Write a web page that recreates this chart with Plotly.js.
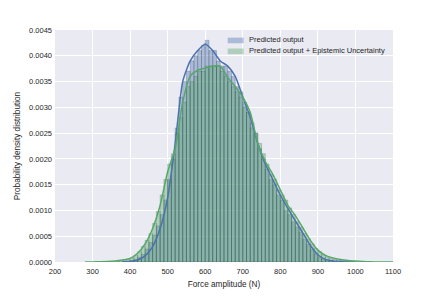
<!DOCTYPE html>
<html>
<head>
<meta charset="utf-8">
<script src="https://cdn.plot.ly/plotly-3.0.1.min.js"></script>
<style>html,body{margin:0;padding:0;background:#fff;}#chart{width:436px;height:300px;}</style>
</head>
<body>
<div id="chart"></div>
<script>
// Histogram bin centres (N) and densities: predicted output
const binsPred = [385,395,405,415,425,435,445,455,465,475,485,495,505,515,525,535,545,555,565,575,585,595,605,615,625,635,645,655,665,675,685,695,705,715,725,735,745,755,765,775,785,795,805,815,825,835,845,855,865,875,885,895,905,915,925,935,945,955];
const densPred = [0.00001,0.00002,0.00003,0.00005,0.00009,0.00015,0.00025,0.00038,0.00052,0.0007,0.00092,0.0012,0.0016,0.0020,0.0026,0.0032,0.0035,0.0037,0.0039,0.0040,0.0041,0.0042,0.0043,0.0041,0.0041,0.0039,0.0038,0.0038,0.0037,0.0036,0.0034,0.0033,0.0031,0.0029,0.0027,0.0025,0.0022,0.0020,0.0018,0.0016,0.0015,0.0013,0.0012,0.0010,0.00092,0.00078,0.00068,0.00058,0.00044,0.00034,0.00024,0.00016,0.0001,0.00006,0.00004,0.00002,0.00001,0.00001];

// Histogram: predicted output + epistemic uncertainty
const binsEpi = [365,375,385,395,405,415,425,435,445,455,465,475,485,495,505,515,525,535,545,555,565,575,585,595,605,615,625,635,645,655,665,675,685,695,705,715,725,735,745,755,765,775,785,795,805,815,825,835,845,855,865,875,885,895,905,915,925,935,945,955,965,975,985,995];
const densEpi = [0.00001,0.00002,0.00003,0.00005,0.00008,0.00013,0.0002,0.0003,0.00042,0.00055,0.00075,0.00098,0.0013,0.0016,0.0019,0.0021,0.0025,0.0028,0.0031,0.0034,0.0035,0.0036,0.0037,0.0037,0.0038,0.0038,0.0038,0.0038,0.0037,0.0036,0.0035,0.0034,0.0033,0.0032,0.0030,0.0029,0.0026,0.0025,0.0023,0.0021,0.0019,0.0017,0.0016,0.0014,0.0013,0.0012,0.00105,0.00092,0.00078,0.00068,0.00055,0.00045,0.00035,0.00026,0.0002,0.00014,0.0001,0.00007,0.00005,0.00004,0.00003,0.00002,0.00001,0.00001];

// KDE curves
const kdeXPred = [380,400,420,440,460,480,500,520,540,560,580,600,620,640,660,680,700,720,740,760,780,800,820,840,860,880,900,920,940,960,980,1000];
const kdeYPred = [0,0.00001,0.00004,0.00012,0.0003,0.00065,0.00125,0.0023,0.0035,0.0039,0.0041,0.00423,0.0041,0.0039,0.0038,0.0036,0.0032,0.0028,0.0023,0.0019,0.0016,0.0013,0.00104,0.0008,0.00056,0.00032,0.00014,0.00005,0.00002,0.00001,0,0];
const kdeXEpi = [280,300,320,340,360,380,400,420,440,460,480,500,520,540,560,580,600,620,640,660,680,700,720,740,760,780,800,820,840,860,880,900,920,940,960,980,1000,1020,1040,1060,1080,1100];
const kdeYEpi = [0,0.000002,0.000005,0.00001,0.00002,0.00004,0.00007,0.00017,0.00035,0.00065,0.0011,0.00175,0.0022,0.0031,0.0036,0.00372,0.00376,0.0038,0.0038,0.00358,0.0034,0.0032,0.0029,0.0023,0.00195,0.0017,0.0014,0.0011,0.0009,0.00066,0.00042,0.00023,0.00013,0.00008,0.00005,0.00003,0.00002,0.00001,0.000005,0,0,0];

const seriesNames = ['Predicted output', 'Predicted output + Epistemic Uncertainty'];
const xTicks = [200,300,400,500,600,700,800,900,1000,1100];

const blue = '#4C72B0', green = '#55A868';
const font = {family: 'Liberation Sans, Arial, sans-serif', size: 7.5, color: '#262626'};
const titleFont = {family: 'Liberation Sans, Arial, sans-serif', size: 8.2, color: '#262626'};

const traces = [
  {type:'bar', x: binsPred, y: densPred, width: 10, name: seriesNames[0],
   marker:{color:'rgba(76,114,176,0.4)', line:{color:'rgba(40,55,70,0.45)', width:0.5}}, showlegend:false, hoverinfo:'skip'},
  {type:'bar', x: binsEpi, y: densEpi, width: 10, name: seriesNames[1],
   marker:{color:'rgba(85,168,104,0.4)', line:{color:'rgba(40,70,50,0.45)', width:0.5}}, showlegend:false, hoverinfo:'skip'},
  {type:'scatter', mode:'lines', x: kdeXPred, y: kdeYPred, line:{color: blue, width:1.5, shape:'spline', smoothing:0.6}, showlegend:false, hoverinfo:'skip'},
  {type:'scatter', mode:'lines', x: kdeXEpi, y: kdeYEpi, line:{color: green, width:1.5, shape:'spline', smoothing:0.6}, showlegend:false, hoverinfo:'skip'}
];

const layout = {
  width: 436, height: 300,
  margin: {l:55, r:43, t:30, b:38},
  paper_bgcolor: '#ffffff', plot_bgcolor: '#EAEAF2',
  barmode: 'overlay', bargap: 0,
  font: font,
  xaxis: {range:[200,1100], tickvals: xTicks, ticktext: xTicks.map(String), gridcolor:'#ffffff', gridwidth:1,
          zeroline:false, showline:false, ticks:'', ticklen:0, tickfont: font, ticklabelstandoff: 3,
          title:{text:'Force amplitude (N)', font: titleFont, standoff: 6}},
  yaxis: {range:[0,0.0045], dtick:0.0005, tickformat:'.4f', gridcolor:'#ffffff', gridwidth:1,
          zeroline:false, showline:false, ticks:'', tickfont: font, ticklabelstandoff: 2,
          title:{text:'Probability density distribution', font: titleFont, standoff: 7}},
  showlegend: false,
  shapes: [
    {type:'rect', xref:'paper', yref:'paper', x0:0.511, x1:0.558, y0:0.943, y1:0.967, fillcolor:'rgba(76,114,176,0.4)', line:{width:0}},
    {type:'rect', xref:'paper', yref:'paper', x0:0.511, x1:0.558, y0:0.896, y1:0.920, fillcolor:'rgba(85,168,104,0.4)', line:{width:0}}
  ],
  annotations: [
    {xref:'paper', yref:'paper', x:0.568, y:0.957, xanchor:'left', yanchor:'middle', text: seriesNames[0], showarrow:false, font: font},
    {xref:'paper', yref:'paper', x:0.568, y:0.910, xanchor:'left', yanchor:'middle', text: seriesNames[1], showarrow:false, font: font}
  ]
};

Plotly.newPlot('chart', traces, layout, {displayModeBar:false, staticPlot:true});
</script>
</body>
</html>
